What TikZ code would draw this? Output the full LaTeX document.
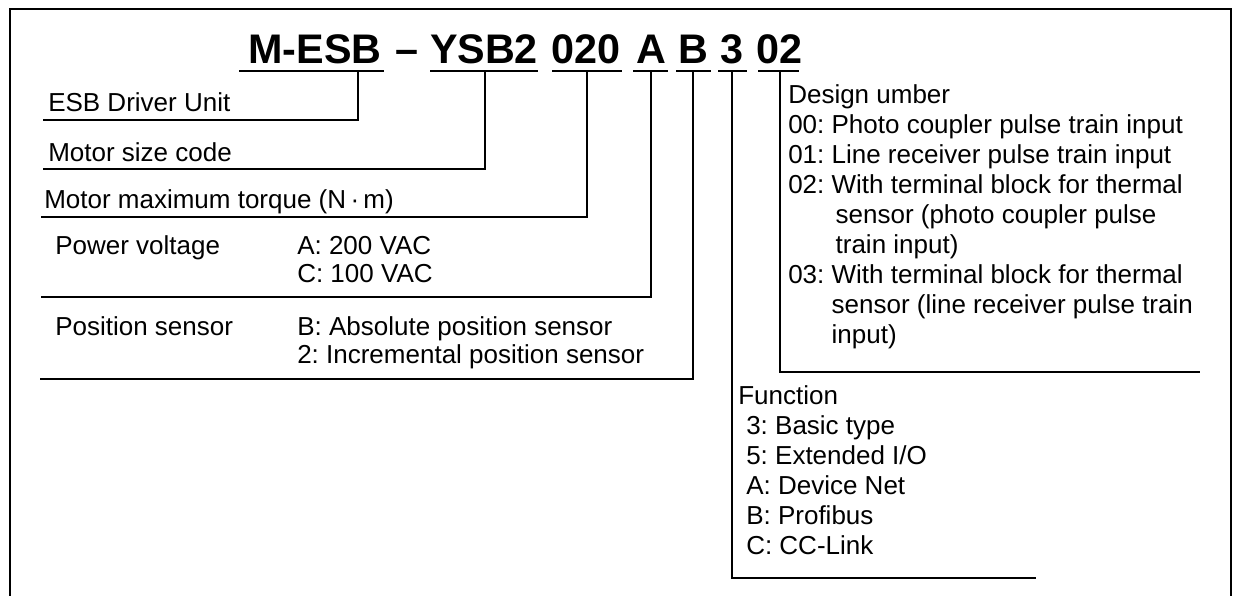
\documentclass[tikz,border=0pt]{standalone}
\usepackage{fontspec}
\setmainfont{Liberation Sans}
\usetikzlibrary{positioning}
\frenchspacing

\begin{document}
\begin{tikzpicture}[
    x=0.75pt, y=-0.75pt,
    every node/.style={font=\fontsize{19.5}{22}\selectfont, inner sep=0pt},
    code/.style={font=\fontsize{31}{36}\selectfont\bfseries, anchor=base},
    item/.style={anchor=base west},
    lead/.style={line width=0.8pt},
    uline/.style={line width=0.9pt},
    frame/.style={line width=1.6pt}
]

    % page and outer frame
    \useasboundingbox (0,0) rectangle (1239,596);
    \draw[frame] (10,596) -- (10,9) -- (1231,9) -- (1231,596);

    % model code
    \node[code] (mesb) at (315,63) {M-ESB};
    \node[code] (sep)  at (407,63) {\textendash};
    \node[code] (ysb)  at (484,63) {YSB2};
    \node[code] (torq) at (586,63) {020};
    \node[code] (volt) at (651,63) {A};
    \node[code] (sens) at (693,63) {B};
    \node[code] (func) at (732,63) {3};
    \node[code] (dsgn) at (779,63) {02};

    % underlines
    \foreach \a/\b in {239/384, 430/538, 552/622, 633/668, 676/711, 718/747, 758/799}
        \draw[uline] (\a,71) -- (\b,71);

    % leg tops
    \coordinate (mesb-leg) at (358,71);
    \coordinate (ysb-leg)  at (485,71);
    \coordinate (torq-leg) at (587,71);
    \coordinate (volt-leg) at (651,71);
    \coordinate (sens-leg) at (693,71);
    \coordinate (func-leg) at (732,71);
    \coordinate (dsgn-leg) at (780,71);

    % left descriptions
    \node[item] (unit) at (48,111) {ESB Driver Unit};
    \node[item] (size) at (48,161) {Motor size code};
    \node[item] (tq)   at (44,208) {Motor maximum torque (N\,·\,m)};
    \node[item] (pv)   at (55,254) {Power voltage};
    \node[item] (pvA)  at (297,254) {A: 200 VAC};
    \node[item] (pvC)  at (297,282) {C: 100 VAC};
    \node[item] (ps)   at (55,335) {Position sensor};
    \node[item] (psB)  at (297,335) {B: Absolute position sensor};
    \node[item] (ps2)  at (297,363) {2: Incremental position sensor};

    % design number list
    \foreach \t [count=\i from 0] in {
        Design umber,
        00: Photo coupler pulse train input,
        01: Line receiver pulse train input,
        02: With terminal block for thermal,
        \hphantom{02: }\hspace*{3pt}sensor (photo coupler pulse,
        \hphantom{02: }\hspace*{3pt}train input),
        03: With terminal block for thermal,
        \hphantom{02: }sensor (line receiver pulse train,
        \hphantom{02: }input)}
        \node[item] (dn\i) at (788,103+30*\i) {\t};

    % function list
    \node[item] (fn) at (738,404) {Function};
    \foreach \t [count=\i] in {3: Basic type, 5: Extended I/O, A: Device Net, B: Profibus, C: CC-Link}
        \node[item] (fn\i) at (746,404+30*\i) {\t};

    % leaders
    \coordinate (unit-end) at (43,120);
    \coordinate (size-end) at (43,169);
    \coordinate (tq-end)   at (41,217);
    \coordinate (pv-end)   at (41,297);
    \coordinate (ps-end)   at (40,379);
    \coordinate (dn-end)   at (1200,372);
    \coordinate (fn-end)   at (1036,578);

    \draw[lead] (mesb-leg) |- (unit-end);
    \draw[lead] (ysb-leg)  |- (size-end);
    \draw[lead] (torq-leg) |- (tq-end);
    \draw[lead] (volt-leg) |- (pv-end);
    \draw[lead] (sens-leg) |- (ps-end);
    \draw[lead] (dsgn-leg) |- (dn-end);
    \draw[lead] (func-leg) |- (fn-end);

\end{tikzpicture}
\end{document}
